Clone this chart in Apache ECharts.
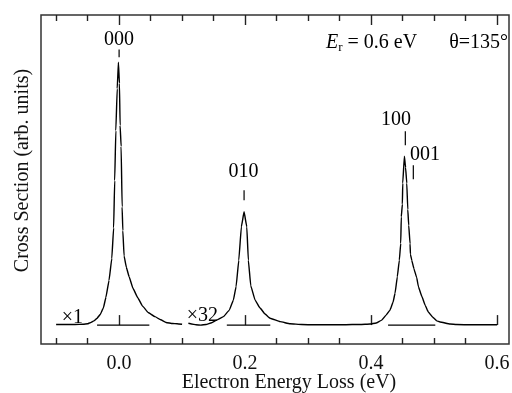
<!DOCTYPE html>
<html>
<head>
<meta charset="utf-8">
<script src="https://cdn.jsdelivr.net/npm/echarts/dist/echarts.min.js"></script>
<style>
html, body { margin: 0; padding: 0; background: #fff; }
#main { width: 512px; height: 393px; }
</style>
</head>
<body>
<div id="main"></div>
<script>
// x1 part of the spectrum (elastic peak), loss in eV, intensity arb.
var lossX1 = [-0.100, -0.070, -0.057, -0.050, -0.046, -0.040, -0.0354, -0.030, -0.025, -0.021, -0.016, -0.0116, -0.0087, -0.0070, -0.0052, -0.0030, -0.0011,
    0.0005, 0.0016, 0.0032, 0.0048, 0.0059, 0.0079, 0.0115, 0.0159, 0.0220, 0.0294, 0.037, 0.046, 0.057, 0.066, 0.0746, 0.085, 0.092, 0.100];
var countsX1 = [0.2, 0.2, 0.3, 0.5, 0.9, 1.6, 2.5, 4.0, 6.5, 10.5, 17, 25.4, 37, 55, 74, 90, 100,
    92, 76, 68, 45, 36, 26.3, 22, 18.4, 14, 10.5, 7.3, 4.8, 3.2, 2.0, 1.0, 0.6, 0.5, 0.3];

// x32 part (vibrational losses)
var lossX32 = [0.110, 0.115, 0.122, 0.130, 0.138, 0.147, 0.155, 0.1656, 0.175, 0.1814, 0.1857, 0.190, 0.1941, 0.1984,
    0.2027, 0.2052, 0.2090, 0.2159, 0.2238, 0.2317, 0.2397, 0.2556, 0.2714, 0.290, 0.310, 0.330, 0.350, 0.370, 0.3825,
    0.3984, 0.408, 0.417, 0.4238, 0.430, 0.4349, 0.4381, 0.4417, 0.4449, 0.4471, 0.4480, 0.4497, 0.4503, 0.4529,
    0.4548, 0.4567, 0.4583, 0.4598, 0.4619, 0.4625, 0.4646, 0.4680, 0.4725, 0.4752, 0.4805, 0.4860, 0.4909, 0.4980,
    0.5043, 0.5095, 0.5254, 0.536, 0.560, 0.580, 0.600];
var countsX32 = [0.7, 0.4, 0.1, 0.0, 0.2, 0.9, 1.9, 3.2, 5.7, 9.5, 14.6, 24.7, 37.4, 43.1,
    37.4, 24.7, 15, 9.5, 6.5, 4.2, 2.6, 1.3, 0.5, 0.2, 0.1, 0.15, 0.1, 0.2, 0.2,
    0.4, 0.8, 1.9, 3.8, 5.7, 8.7, 12.1, 18.4, 24.7, 31.1, 41.2, 46, 54, 64.3,
    60, 54, 44, 38, 31, 27, 24.7, 21.5, 18, 14.6, 11, 7.5, 5.0, 3.0,
    1.6, 1.2, 0.4, 0.2, 0.1, 0.1, 0.1];

var majorTicks = [0, 0.2, 0.4, 0.6];
var minorTicks = [-0.1, -0.05, 0.05, 0.1, 0.15, 0.25, 0.3, 0.35, 0.45, 0.5, 0.55];

// zero lines under the peaks
var baseFrom = [-0.035, 0.171, 0.427];
var baseTo = [0.048, 0.240, 0.502];

var peakNames = ['000', '010', '100', '001'];
var peakLabelX = [0.0, 0.1976, 0.4397, 0.4857];
var peakLabelY = [108.4, 58.4, 78.2, 65.0];
var peakMarkX = [0.0, 0.1984, 0.4544, 0.4671];
var peakMarkLo = [101.9, 47.5, 68.4, 55.5];
var peakMarkHi = [104.9, 51.3, 73.8, 60.8];

var scaleNames = ['\u00d71', '\u00d732'];
var scaleX = [-0.091, 0.1075];
var scaleY = [2.7, 3.4];

var FONT = 'Liberation Serif';
var X_MIN = -0.124, X_MAX = 0.619;

function zip(xs, ys) {
    return xs.map(function (x, i) { return [x, ys[i]]; });
}

function xAxisFor(pos, ticks, len, withLabels) {
    var ax = {
        type: 'value',
        position: pos,
        min: X_MIN,
        max: X_MAX,
        axisLine: { show: false },
        splitLine: { show: false },
        axisTick: {
            show: true,
            inside: true,
            length: len,
            customValues: ticks,
            lineStyle: { color: '#222', width: 1.4 }
        },
        axisLabel: { show: false }
    };
    if (withLabels) {
        ax.axisLabel = {
            show: true,
            customValues: majorTicks,
            margin: 10,
            fontFamily: FONT,
            fontSize: 20,
            color: '#111',
            formatter: function (v) { return v.toFixed(1); }
        };
        ax.name = 'Electron Energy Loss (eV)';
        ax.nameLocation = 'middle';
        ax.nameGap = 29;
        ax.nameMoveOverlap = false;
        ax.nameTextStyle = { fontFamily: FONT, fontSize: 20, color: '#111', padding: [0, 0, 0, 28] };
    }
    return ax;
}

var series = [];
[zip(lossX1, countsX1), zip(lossX32, countsX32)].forEach(function (d) {
    series.push({
        type: 'line', data: d, showSymbol: false, smooth: 0.1, smoothMonotone: 'x',
        lineStyle: { color: '#000', width: 1.4 }
    });
});
baseFrom.forEach(function (x0, i) {
    series.push({
        type: 'line', data: [[x0, 0], [baseTo[i], 0]], showSymbol: false,
        lineStyle: { color: '#000', width: 1.2 }
    });
});
peakMarkX.forEach(function (x, i) {
    series.push({
        type: 'line', data: [[x, peakMarkLo[i]], [x, peakMarkHi[i]]], showSymbol: false,
        lineStyle: { color: '#000', width: 1.2 }
    });
});
series.push({
    type: 'scatter', symbolSize: 0, itemStyle: { opacity: 1 },
    data: peakNames.map(function (n, i) { return { value: [peakLabelX[i], peakLabelY[i]], name: n }; }),
    label: { show: true, position: 'inside', formatter: '{b}', fontFamily: FONT, fontSize: 20, color: '#000' }
});
series.push({
    type: 'scatter', symbolSize: 0, itemStyle: { opacity: 1 },
    data: scaleNames.map(function (n, i) { return { value: [scaleX[i], scaleY[i]], name: n }; }),
    label: { show: true, position: 'right', distance: 0, formatter: '{b}', fontFamily: FONT, fontSize: 20, color: '#000' }
});

var chart = echarts.init(document.getElementById('main'), null, { renderer: 'canvas' });
chart.setOption({
    animation: false,
    title: {
        text: '{e|E}{s|r}{t| = 0.6 eV}{g|\u03b8=135\u00b0}',
        right: 4,
        top: 32,
        padding: 0,
        textStyle: {
            fontWeight: 'normal',
            rich: {
                e: { fontFamily: FONT, fontSize: 20, fontStyle: 'italic', fontWeight: 'normal', color: '#000', lineHeight: 22 },
                s: { fontFamily: FONT, fontSize: 13, fontWeight: 'normal', color: '#000', verticalAlign: 'bottom', lineHeight: 22 },
                t: { fontFamily: FONT, fontSize: 20, fontWeight: 'normal', color: '#000', lineHeight: 22 },
                g: { fontFamily: FONT, fontSize: 20, fontWeight: 'normal', color: '#000', lineHeight: 22, padding: [0, 0, 0, 32] }
            }
        }
    },
    grid: {
        left: 41, right: 3, top: 15, bottom: 49,
        containLabel: false, outerBoundsMode: 'none',
        show: true, borderColor: '#333', borderWidth: 1.5, backgroundColor: 'transparent'
    },
    xAxis: [
        xAxisFor('bottom', majorTicks, 10, true),
        xAxisFor('bottom', minorTicks, 6, false),
        xAxisFor('top', majorTicks, 10, false),
        xAxisFor('top', minorTicks, 6, false)
    ],
    yAxis: {
        type: 'value', min: -7.2, max: 118,
        name: 'Cross Section (arb. units)',
        nameLocation: 'middle',
        nameGap: 8,
        nameMoveOverlap: false,
        nameTextStyle: { fontFamily: FONT, fontSize: 20, color: '#111', padding: [0, 0, 0, 18] },
        axisLine: { show: false }, axisTick: { show: false }, axisLabel: { show: false },
        splitLine: { show: false }
    },
    series: series
});
</script>
</body>
</html>
